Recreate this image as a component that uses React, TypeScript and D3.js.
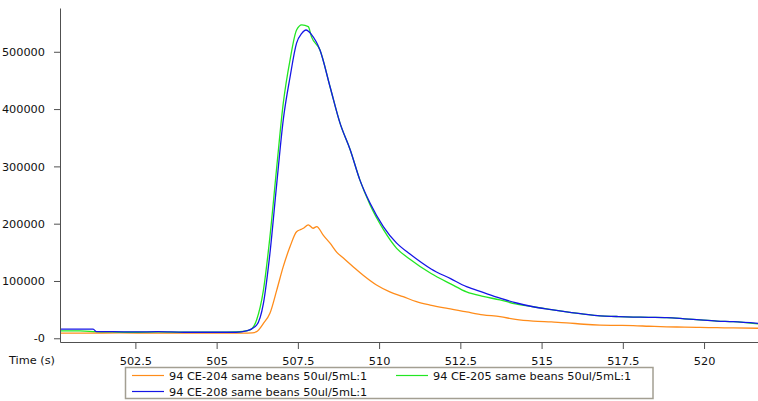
import React, { useEffect, useRef } from "react";
import * as d3 from "d3";

// retention time (s) / intensity
const orangeTime = [500.18, 501.0, 502.0, 503.0, 504.0, 505.0, 505.8, 506.1, 506.23, 506.44, 506.64, 506.85, 507.05, 507.26, 507.46, 507.6, 507.67, 507.82, 507.97, 508.08, 508.28, 508.49, 508.7, 508.9, 509.2, 509.51, 509.92, 510.33, 510.74, 511.15, 511.57, 512.1, 512.69, 513.2, 513.72, 514.2, 514.74, 515.3, 515.77, 516.3, 516.8, 517.3, 517.82, 518.3, 518.85, 519.4, 519.87, 520.4, 520.9, 521.66];
const orangeValues = [9000, 9000, 9500, 9000, 9200, 9000, 9000, 9500, 11500, 26000, 43600, 84000, 125000, 160000, 186000, 190000, 192000, 198000, 192000, 195000, 180000, 166000, 150000, 140000, 125000, 110000, 93000, 81000, 72600, 64000, 58000, 52000, 46000, 41000, 37700, 33000, 30000, 28500, 27000, 24500, 23000, 22500, 22000, 21000, 20000, 19500, 19000, 18500, 18000, 17500];

const greenTime = [500.18, 500.8, 501.3, 501.8, 502.5, 503.2, 504.0, 505.0, 505.6, 505.81, 506.03, 506.23, 506.44, 506.64, 506.85, 507.05, 507.26, 507.46, 507.62, 507.82, 507.92, 508.18, 508.49, 508.8, 509.11, 509.41, 509.72, 510.13, 510.54, 510.95, 511.6, 512.2, 512.69, 513.2, 513.72, 514.2, 514.74, 515.3, 515.77, 516.3, 516.8, 517.3, 517.82, 518.3, 518.85, 519.4, 519.87, 520.4, 520.9, 521.66];
const greenValues = [13000, 13000, 11500, 11000, 10500, 11000, 10500, 10500, 11000, 12000, 14500, 32000, 84000, 177000, 299000, 410000, 486000, 538000, 547000, 544000, 526000, 503000, 439000, 375000, 329000, 276000, 233000, 190000, 157000, 138000, 113000, 95000, 81000, 73000, 67000, 60000, 55000, 50000, 46000, 42000, 39000, 38000, 37000, 36500, 36000, 34000, 32000, 30000, 29000, 25000];

const blueTime = [500.18, 500.8, 501.2, 501.3, 501.8, 502.5, 503.2, 504.0, 505.0, 505.6, 505.92, 506.23, 506.44, 506.64, 506.85, 507.05, 507.26, 507.46, 507.62, 507.75, 507.92, 508.18, 508.49, 508.8, 509.11, 509.41, 509.72, 510.13, 510.54, 510.95, 511.6, 512.2, 512.69, 513.2, 513.72, 514.2, 514.74, 515.3, 515.77, 516.3, 516.8, 517.3, 517.82, 518.3, 518.85, 519.4, 519.87, 520.4, 520.9, 521.66];
const blueValues = [16000, 16000, 16000, 11500, 11500, 11000, 11500, 10500, 10500, 10500, 13000, 23000, 61000, 148000, 270000, 381000, 456000, 515000, 532000, 538000, 530000, 503000, 439000, 375000, 329000, 276000, 236000, 195000, 166000, 147000, 121000, 104000, 90000, 80000, 70000, 62000, 55000, 50000, 46000, 42000, 39000, 38000, 37000, 36500, 36000, 34000, 32000, 30000, 29000, 26000];

const yTicks = [0, 100000, 200000, 300000, 400000, 500000];
const yTickLabels = ["-0", "100000", "200000", "300000", "400000", "500000"];
const xTicks = [502.5, 505, 507.5, 510, 512.5, 515, 517.5, 520];

const series = [
  { name: "94 CE-204 same beans 50ul/5mL:1", color: "#ff8c1a", time: orangeTime, values: orangeValues },
  { name: "94 CE-205 same beans 50ul/5mL:1", color: "#22e622", time: greenTime, values: greenValues },
  { name: "94 CE-208 same beans 50ul/5mL:1", color: "#1515e6", time: blueTime, values: blueValues },
];

const App = () => {
  const svgRef = useRef<SVGSVGElement>(null);

  useEffect(() => {
    const width = 758, height = 401;
    const left = 60, right = 758, top = 8, bottom = 342;
    const font = "DejaVu Sans, Verdana, sans-serif";

    const root = d3.select(svgRef.current);
    root.selectAll("*").remove();
    root.attr("width", width).attr("height", height);

    const x = d3.scaleLinear().domain([500.18, 521.66]).range([left, right]);
    const y = d3.scaleLinear().domain([-6500, 576400]).range([bottom, top]);

    const plot = root.append("g");
    const line = d3.line<[number, number]>()
      .x(d => x(d[0])).y(d => y(d[1]))
      .curve(d3.curveMonotoneX);

    // blue drawn last so it sits over green, like the original
    series.forEach(s => {
      const pts = s.time.map((t, i) => [t, s.values[i]] as [number, number]);
      plot.append("path")
        .attr("d", line(pts))
        .attr("fill", "none")
        .attr("stroke", s.color)
        .attr("stroke-width", 1.3);
    });

    // Y axis
    const yAxis = root.append("g")
      .attr("transform", `translate(${left},0)`)
      .call(d3.axisLeft(y).tickValues(yTicks).tickSize(6).tickPadding(9)
        .tickFormat((d, i) => yTickLabels[i]).tickSizeOuter(0));
    yAxis.select(".domain").attr("stroke", "#505050");
    yAxis.selectAll("line").attr("stroke", "#505050");
    yAxis.selectAll("text").attr("fill", "#111").style("font-family", font).style("font-size", "11.3px");

    // X axis
    const xAxis = root.append("g")
      .attr("transform", `translate(0,${bottom})`)
      .call(d3.axisBottom(x).tickValues(xTicks).tickSize(7).tickPadding(8)
        .tickFormat(d => String(d)).tickSizeOuter(0));
    xAxis.select(".domain").attr("stroke", "#505050");
    xAxis.selectAll("line").attr("stroke", "#505050");
    xAxis.selectAll("text").attr("fill", "#111").style("font-family", font).style("font-size", "11.3px");

    root.append("text")
      .attr("x", 9).attr("y", 364)
      .attr("fill", "#111")
      .style("font-family", font).style("font-size", "11.3px")
      .text("Time (s)");

    // legend
    const lg = root.append("g");
    lg.append("rect")
      .attr("x", 125.5).attr("y", 367.5).attr("width", 527.5).attr("height", 31)
      .attr("fill", "#fff").attr("stroke", "#a39f92").attr("stroke-width", 1.5);
    const entries = [
      { s: series[0], lx: 132, ly: 375.5 },
      { s: series[1], lx: 396, ly: 375.5 },
      { s: series[2], lx: 132, ly: 391.5 },
    ];
    entries.forEach(({ s, lx, ly }) => {
      lg.append("line")
        .attr("x1", lx).attr("x2", lx + 32).attr("y1", ly).attr("y2", ly)
        .attr("stroke", s.color).attr("stroke-width", 1.2);
      lg.append("text")
        .attr("x", lx + 37).attr("y", ly + 4)
        .attr("fill", "#111")
        .style("font-family", font).style("font-size", "11.3px")
        .text(s.name);
    });
  }, []);

  return <svg ref={svgRef} style={{ position: "absolute", left: 0, top: 0, background: "#fff" }} />;
};

export default App;
